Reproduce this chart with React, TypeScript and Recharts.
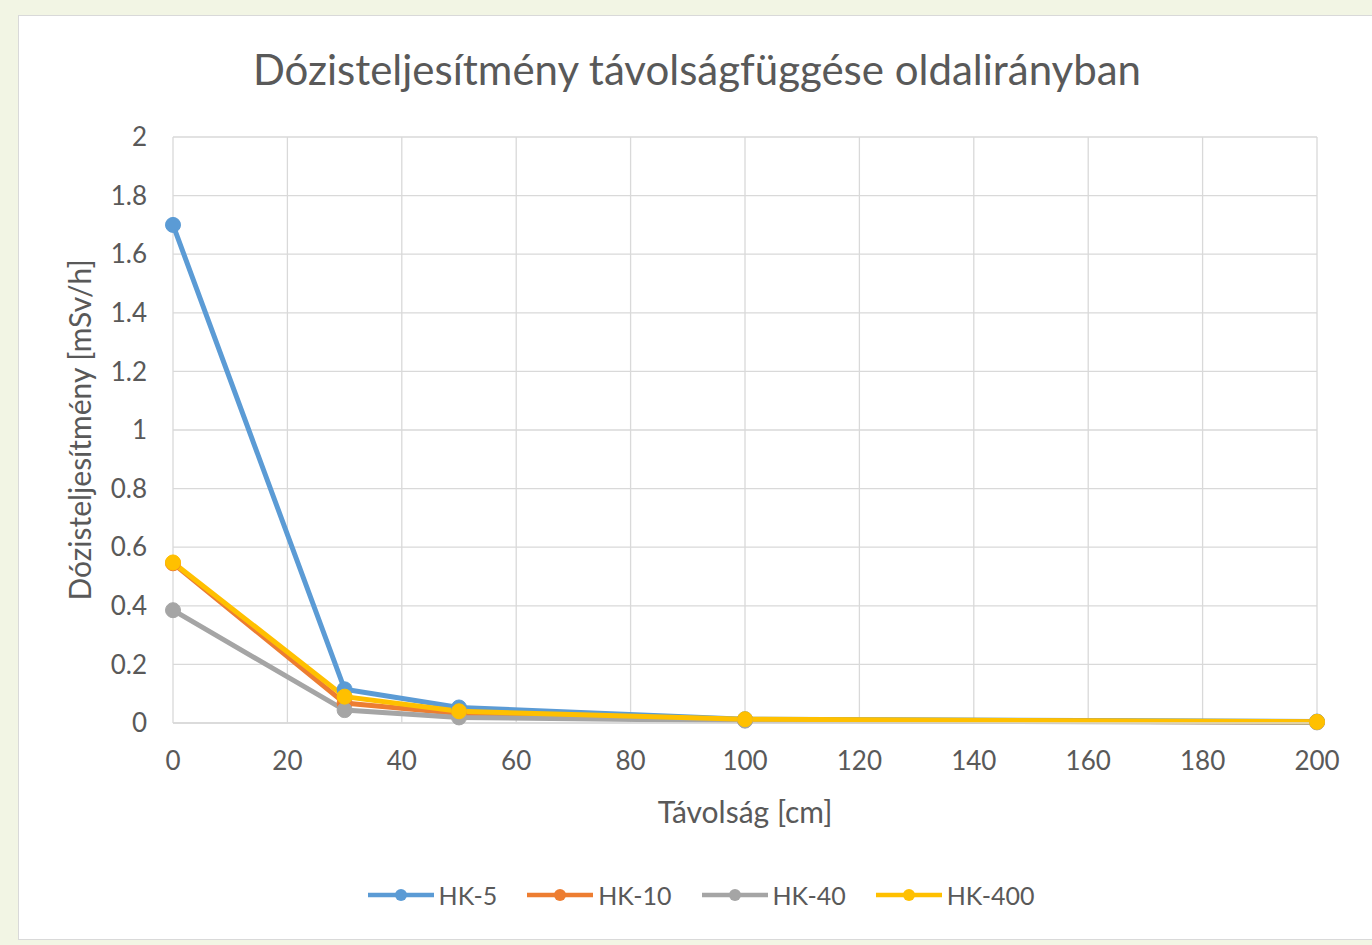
import React from 'react';
import { LineChart, Line, XAxis, YAxis, CartesianGrid } from 'recharts';

const distances = [0, 30, 50, 100, 200];
const hk5 = [1.70, 0.115, 0.053, 0.013, 0.005];
const hk10 = [0.545, 0.068, 0.032, 0.010, 0.003];
const hk40 = [0.385, 0.044, 0.019, 0.008, 0.002];
const hk400 = [0.548, 0.09, 0.040, 0.013, 0.004];
const xTicks = [0, 20, 40, 60, 80, 100, 120, 140, 160, 180, 200];
const yTicks = [0, 0.2, 0.4, 0.6, 0.8, 1, 1.2, 1.4, 1.6, 1.8, 2];

const seriesNames = ['HK-5', 'HK-10', 'HK-40', 'HK-400'];
const seriesColors = ['#5B9BD5', '#ED7D31', '#A5A5A5', '#FFC000'];
const seriesValues = [hk5, hk10, hk40, hk400];

const data = distances.map((d, i) => {
  const row: any = { x: d };
  seriesNames.forEach((n, k) => {
    row[n] = seriesValues[k][i];
  });
  return row;
});

const FONT = 'Lato, "Open Sans", sans-serif';
const TEXT = '#595959';

export default function App() {
  return (
    <div style={{ position: 'absolute', left: 0, top: 0, width: 1372, height: 945, background: '#F2F5E4', overflow: 'hidden' }}>
      <div style={{ position: 'absolute', left: 18, top: 15, width: 1360, height: 925, background: '#FFFFFF', border: '1.5px solid #D9D9D9', boxSizing: 'border-box' }} />
      <div style={{ position: 'absolute', left: 0, top: 43, width: 1394, textAlign: 'center', fontFamily: FONT, fontSize: 42, lineHeight: '52px', color: TEXT }}>
        Dózisteljesítmény távolságfüggése oldalirányban
      </div>
      <div style={{ position: 'absolute', left: 0, top: 0 }}>
        <LineChart width={1372} height={945} data={data} margin={{ top: 137, right: 55, bottom: 182, left: 113 }}>
          <CartesianGrid stroke="#D9D9D9" strokeWidth={1.3} vertical={true} horizontal={true} />
          <XAxis
            dataKey="x"
            type="number"
            domain={[0, 200]}
            ticks={xTicks}
            interval={0}
            axisLine={{ stroke: '#D9D9D9', strokeWidth: 1.3 }}
            tickLine={false}
            tickSize={0}
            tickMargin={29}
            height={40}
            tick={{ fill: TEXT, fontSize: 26, fontFamily: FONT }}
            label={{ value: 'Távolság [cm]', position: 'insideBottom', offset: -60, fill: TEXT, fontSize: 30, fontFamily: FONT }}
          />
          <YAxis
            type="number"
            domain={[0, 2]}
            ticks={yTicks}
            interval={0}
            axisLine={false}
            tickLine={false}
            tickSize={0}
            tickMargin={26}
            width={60}
            tickFormatter={(v: number) => String(Math.round(v * 10) / 10)}
            tick={{ fill: TEXT, fontSize: 26, fontFamily: FONT }}
            label={{ value: 'Dózisteljesítmény [mSv/h]', angle: -90, position: 'insideLeft', offset: -33, fill: TEXT, fontSize: 30, fontFamily: FONT, style: { textAnchor: 'middle' } }}
          />
          {seriesNames.map((n, k) => (
            <Line
              key={n}
              type="linear"
              dataKey={n}
              stroke={seriesColors[k]}
              strokeWidth={5}
              dot={{ r: 7.5, fill: seriesColors[k], stroke: seriesColors[k], strokeWidth: 1 }}
              activeDot={false}
              isAnimationActive={false}
            />
          ))}
        </LineChart>
      </div>
      <div style={{ position: 'absolute', left: 0, top: 880, width: 1402, display: 'flex', justifyContent: 'center', alignItems: 'center', fontFamily: FONT, fontSize: 25, color: TEXT }}>
        {seriesNames.map((n, k) => (
          <div key={n} style={{ display: 'flex', alignItems: 'center', marginRight: k < 3 ? 30 : 0 }}>
            <svg width={66} height={14} style={{ marginRight: 5 }}>
              <line x1={0} y1={7} x2={66} y2={7} stroke={seriesColors[k]} strokeWidth={4.5} />
              <circle cx={33} cy={7} r={6} fill={seriesColors[k]} />
            </svg>
            <span>{n}</span>
          </div>
        ))}
      </div>
    </div>
  );
}
